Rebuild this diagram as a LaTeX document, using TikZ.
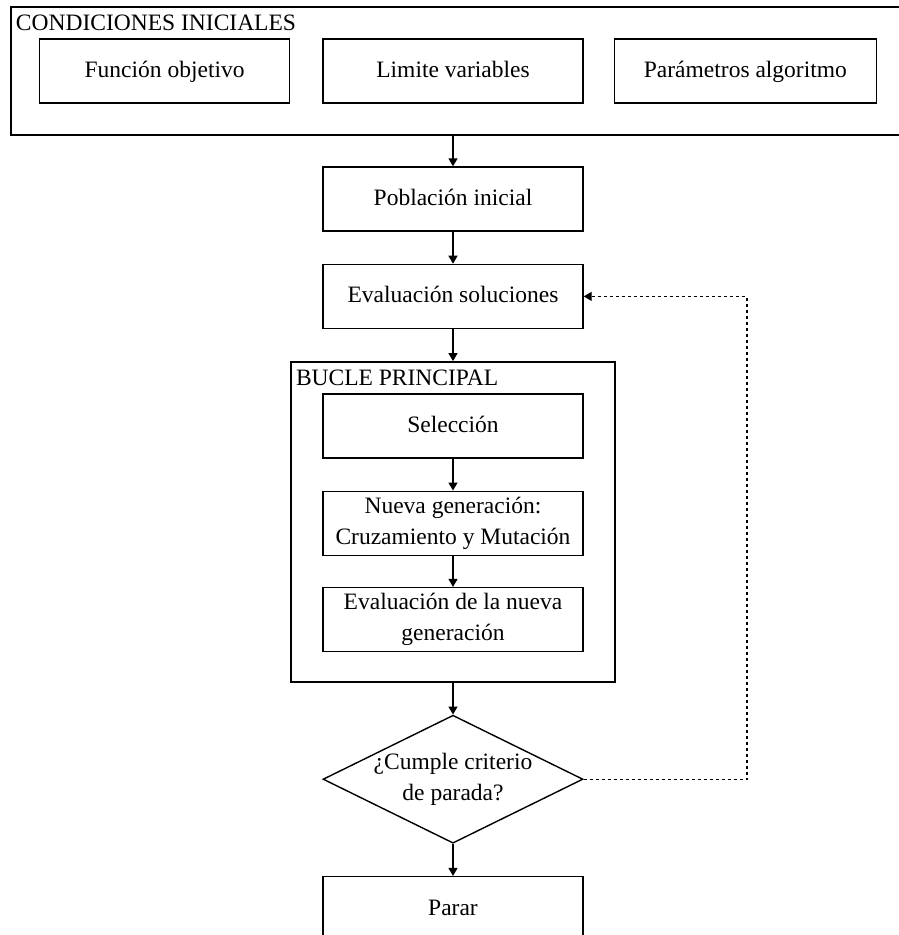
\documentclass[tikz,border=0pt]{standalone}
\usepackage{fontspec}
\setmainfont{Liberation Serif}
\usetikzlibrary{shapes.geometric, arrows.meta, positioning}

\begin{document}
\begin{tikzpicture}[x=1pt, y=-1pt,
  node distance=32pt,
  font=\fontsize{23.5}{31}\selectfont,
  line width=1.4pt,
  twobox/.style={draw, minimum width=260pt, minimum height=64pt, align=center,
    inner sep=2pt},
  box/.style={twobox, text height=18pt, text depth=5pt},
  frame/.style={draw, inner sep=0pt},
  tit/.style={anchor=north west, inner xsep=5pt, inner ysep=8pt},
  decis/.style={draw, diamond, minimum width=260pt, minimum height=128pt, inner sep=0pt},
  flow/.style={-{Triangle[length=8pt,width=9pt]}},
  back/.style={flow, dash pattern=on 3pt off 3pt, line width=1.2pt}]

  \useasboundingbox (0,0) rectangle (899,935);
  \clip (0,0) rectangle (899,935);

  % condiciones iniciales
  \node[frame, minimum width=940pt, minimum height=128pt] (cond) at (481,71) {};
  \node[tit] (condtit) at (cond.north west) {CONDICIONES INICIALES};
  \node[box] (lim) at (453,71) {Limite variables};
  \node[box, minimum width=250pt, left=of lim] (fun) {Función objetivo};
  \node[box, minimum width=262pt, right=30pt of lim] (par) {Parámetros algoritmo};

  % flujo principal
  \node[box] (pob) at (453,199) {Población inicial};
  \node[box, below=of pob] (eva) {Evaluación soluciones};
  \node[frame, minimum width=324pt, minimum height=320pt, below=of eva] (bucle) {};
  \node[tit] (bucletit) at (bucle.north west) {BUCLE PRINCIPAL};
  \node[box, below=of bucle.north] (sel) {Selección};
  \node[twobox, below=of sel] (nue) {Nueva generación:\\Cruzamiento y Mutación};
  \node[twobox, below=31pt of nue] (evn) {Evaluación de la nueva\\generación};
  \node[decis, below=of bucle,
    label={[align=center]center:¿Cumple criterio\\de parada?}] (dec) {};
  \node[box, below=of dec] (stop) {Parar};

  \coordinate (ret) at (747,0);

  \draw[flow] (cond.south -| pob) -- (pob);
  \draw[flow] (pob) -- (eva);
  \draw[flow] (eva) -- (bucle);
  \draw[flow] (sel) -- (nue);
  \draw[flow] (nue) -- (evn);
  \draw[flow] (bucle) -- (dec);
  \draw[flow] (dec) -- (stop);
  \draw[back] (dec.east) -- (dec.east -| ret) -- (eva.east -| ret) -- (eva.east);
\end{tikzpicture}
\end{document}
